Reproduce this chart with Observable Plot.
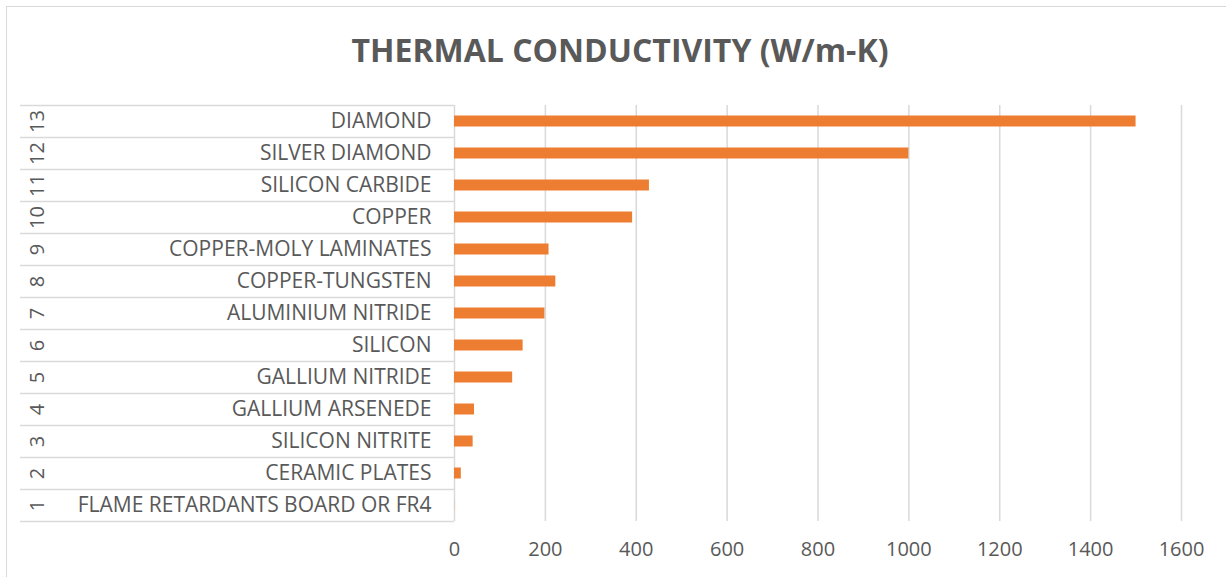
<!DOCTYPE html>
<html>
<head>
<meta charset="utf-8">
<script src="https://cdn.jsdelivr.net/npm/d3@7"></script>
<script src="https://cdn.jsdelivr.net/npm/@observablehq/plot@0.6"></script>
<style>
  html, body { margin: 0; padding: 0; background: #fff; }
  #wrap { position: relative; width: 1226px; height: 577px; overflow: hidden; font-family: "Open Sans", sans-serif; }
  #border { position: absolute; left: 6px; top: 6px; width: 1400px; height: 800px; border: 1.5px solid #d9d9d9; box-sizing: border-box; }
  #title { position: absolute; left: 0; top: 30px; width: 1240px; text-align: center; font-weight: bold; font-size: 32px; color: #595959; line-height: 40px; }
  #chart { position: absolute; left: 0; top: 95px; }
</style>
</head>
<body>
<div id="wrap">
  <div id="border"></div>
  <div id="title">THERMAL CONDUCTIVITY (W/m-K)</div>
  <div id="chart"></div>
</div>
<script>
const rowNumbers = [1, 2, 3, 4, 5, 6, 7, 8, 9, 10, 11, 12, 13];
const materials = [
  "FLAME RETARDANTS BOARD OR FR4",
  "CERAMIC PLATES",
  "SILICON NITRITE",
  "GALLIUM ARSENEDE",
  "GALLIUM NITRIDE",
  "SILICON",
  "ALUMINIUM NITRIDE",
  "COPPER-TUNGSTEN",
  "COPPER-MOLY LAMINATES",
  "COPPER",
  "SILICON CARBIDE",
  "SILVER DIAMOND",
  "DIAMOND"
];
const conductivity = [0.3, 15, 41, 44, 128, 151, 199, 223, 208, 392, 429, 1000, 1500];
const xTicks = [0, 200, 400, 600, 800, 1000, 1200, 1400, 1600];

const data = rowNumbers.map((n, k) => ({ n, name: materials[k], value: conductivity[k] }));
const rowEdges = d3.range(0.5, rowNumbers.length + 1, 1);

const textColor = "#595959";
const gridColor = "#d9d9d9";
const barColor = "#ED7D31";
const font = "'Open Sans', sans-serif";

const chart = Plot.plot({
  width: 1226,
  height: 482,
  marginTop: 10,
  marginBottom: 56,
  marginLeft: 454,
  marginRight: 45,
  style: { fontFamily: font, color: textColor, background: "transparent", overflow: "visible" },
  x: { domain: [0, 1600] },
  y: { domain: [0.5, rowNumbers.length + 0.5] },
  marks: [
    Plot.gridX(xTicks.slice(1), { stroke: gridColor, strokeOpacity: 1, strokeWidth: 1.5 }),
    Plot.axisY(rowEdges, { tickSize: 434, tickFormat: () => "", label: null, stroke: gridColor, strokeOpacity: 1, strokeWidth: 1.5 }),
    Plot.ruleX([0], { stroke: gridColor, strokeWidth: 1.5 }),
    Plot.rectX(data, {
      x: "value",
      y1: d => d.n - 0.5,
      y2: d => d.n + 0.5,
      insetTop: 10.5,
      insetBottom: 10.5,
      fill: barColor
    }),
    Plot.axisY(rowNumbers, {
      tickSize: 0,
      tickPadding: 23,
      tickFormat: n => materials[n - 1],
      label: null,
      fontSize: 21,
      fill: textColor
    }),
    Plot.text(data, {
      y: "n",
      text: d => String(d.n),
      frameAnchor: "left",
      textAnchor: "middle",
      lineAnchor: "middle",
      dx: -417,
      rotate: -90,
      fontSize: 20,
      fill: textColor
    }),
    Plot.axisX(xTicks, {
      tickSize: 0,
      tickPadding: 20,
      tickFormat: d => String(d),
      fontSize: 20,
      fill: textColor,
      label: null
    })
  ]
});
document.getElementById("chart").appendChild(chart);
</script>
</body>
</html>
